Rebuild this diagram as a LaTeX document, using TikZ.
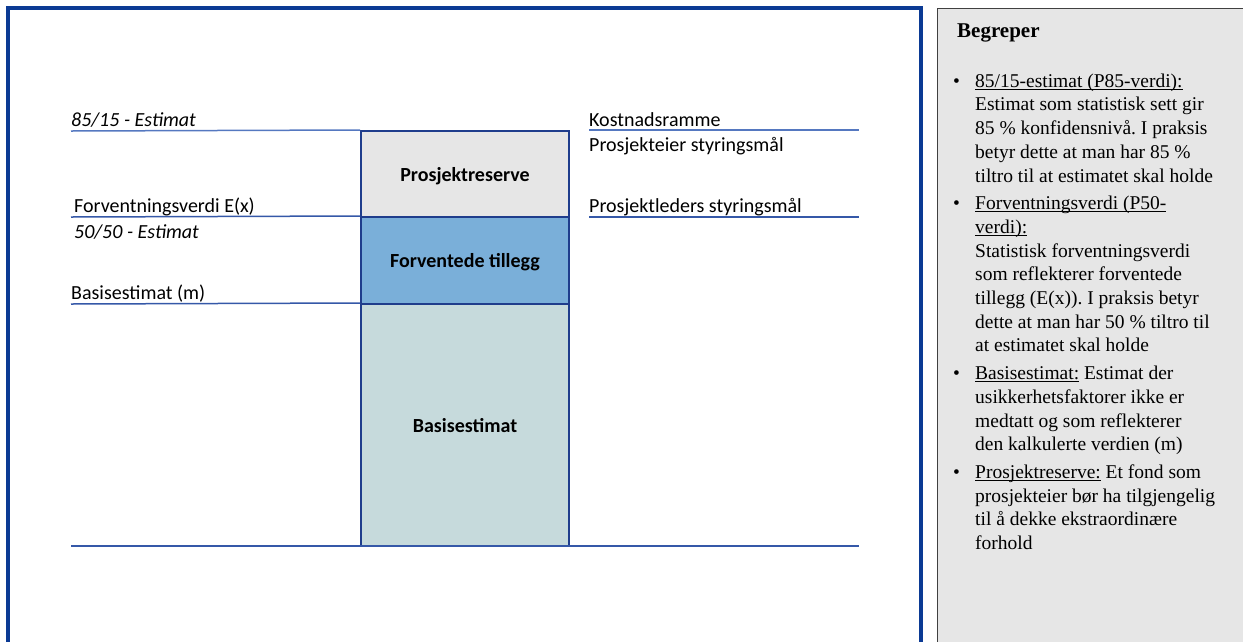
\documentclass[tikz,border=0pt]{standalone}
\usepackage{fontspec}
\setmainfont{Liberation Serif}
\newfontfamily\calibri{Carlito}
\usetikzlibrary{positioning,calc}
\frenchspacing
\definecolor{frameblue}{HTML}{0B3A94}
\definecolor{barblue}{HTML}{1F3D8C}
\definecolor{lineblue}{HTML}{3558A8}
\definecolor{toplineblue}{HTML}{5578C0}
\definecolor{reservegray}{HTML}{E6E6E6}
\definecolor{tilleggblue}{HTML}{7AAFD9}
\definecolor{basisteal}{HTML}{C6DADC}
\definecolor{panelgray}{HTML}{E6E6E6}
\definecolor{panelline}{HTML}{404040}
\newcommand\termul[1]{\setbox0\hbox{#1}\rlap{\rule[-2.5pt]{\wd0}{0.8pt}}\box0\relax}
\tikzset{
  bar/.style={draw=barblue, line width=2pt, minimum width=208pt, inner sep=0pt, text depth=0pt,
    font=\calibri\fontsize{20}{24}\selectfont\bfseries},
  level/.style={draw=lineblue, line width=1.5pt},
  lbl/.style={anchor=base west, inner sep=0pt, font=\calibri\fontsize{20}{24}\selectfont},
  termtxt/.style={inner sep=0pt, font=\fontsize{19.5}{23.7}\selectfont}
}

\begin{document}
\begin{tikzpicture}[x=1pt,y=-1pt]
    \clip (0,0) rectangle (1243,641);
    % Frame and term panel
    \draw[line width=4pt, frameblue] (8,8) rectangle (921,700);
    \draw[fill=panelgray, draw=panelline, line width=1pt] (937,8) rectangle (1300,700);

    % Stacked bars
    \node[bar, fill=reservegray, minimum height=86pt] (reserve) at (465,174) {Prosjektreserve};
    \node[bar, fill=tilleggblue, minimum height=87pt] (tillegg) at (465,260.5) {Forventede tillegg};
    \node[bar, fill=basisteal, minimum height=242pt] (basis) at (465,425) {Basisestimat};

    % Level lines
    \coordinate (l85) at (71,131);
    \coordinate (lex) at (71,217);
    \coordinate (lm) at (71,304);
    \draw[level, draw=toplineblue] (l85) -- (reserve.north west);
    \draw[level] (lex) -- (tillegg.north west);
    \draw[level] (lm) -- (basis.north west);
    \coordinate (rk0) at (589,130);
    \coordinate (rk1) at (859,130);
    \coordinate (rp0) at (589,217);
    \coordinate (rp1) at (859,217);
    \draw[level, draw=toplineblue] (rk0) -- (rk1);
    \draw[level] (rp0) -- (rp1);
    \coordinate (b0) at (71,546);
    \coordinate (b1) at (859,546);
    \draw[level, line width=2.5pt] (b0) -- (b1);

    % Labels
    \node[lbl] (est85) at (71,126) {\itshape 85/15 - Estimat};
    \node[lbl] (fvex) at (74,212) {Forventningsverdi E(x)};
    \node[lbl] (est50) at (74,238) {\itshape 50/50 - Estimat};
    \node[lbl] (basism) at (71,299) {Basisestimat (m)};
    \node[lbl] (ramme) at (589,126) {Kostnadsramme};
    \node[lbl] (eiermaal) at (589,151) {Prosjekteier styringsmål};
    \node[lbl] (ledermaal) at (589,212) {Prosjektleders styringsmål};

    % Begreper
    \node[termtxt, anchor=base west, font=\fontsize{21}{24}\selectfont\bfseries] (begreper) at (957,37) {Begreper};
    \node[termtxt, anchor=north west] (terms) at (953,70.5) {%
      \begin{tabular}{@{}p{22pt}@{}l@{}}
        \textbullet & \termul{85/15-estimat (P85-verdi):}\\
        & Estimat som statistisk sett gir\\
        & 85 \% konfidensnivå. I praksis\\
        & betyr dette at man har 85 \%\\
        & tiltro til at estimatet skal holde\\[4pt]
        \textbullet & \termul{Forventningsverdi (P50-}\\
        & \termul{verdi):}\\
        & Statistisk forventningsverdi\\
        & som reflekterer forventede\\
        & tillegg (E(x)). I praksis betyr\\
        & dette at man har 50 \% tiltro til\\
        & at estimatet skal holde\\[4pt]
        \textbullet & \termul{Basisestimat:} Estimat der\\
        & usikkerhetsfaktorer ikke er\\
        & medtatt og som reflekterer\\
        & den kalkulerte verdien (m)\\[4pt]
        \textbullet & \termul{Prosjektreserve:} Et fond som\\
        & prosjekteier bør ha tilgjengelig\\
        & til å dekke ekstraordinære\\
        & forhold
      \end{tabular}};
\end{tikzpicture}
\end{document}
